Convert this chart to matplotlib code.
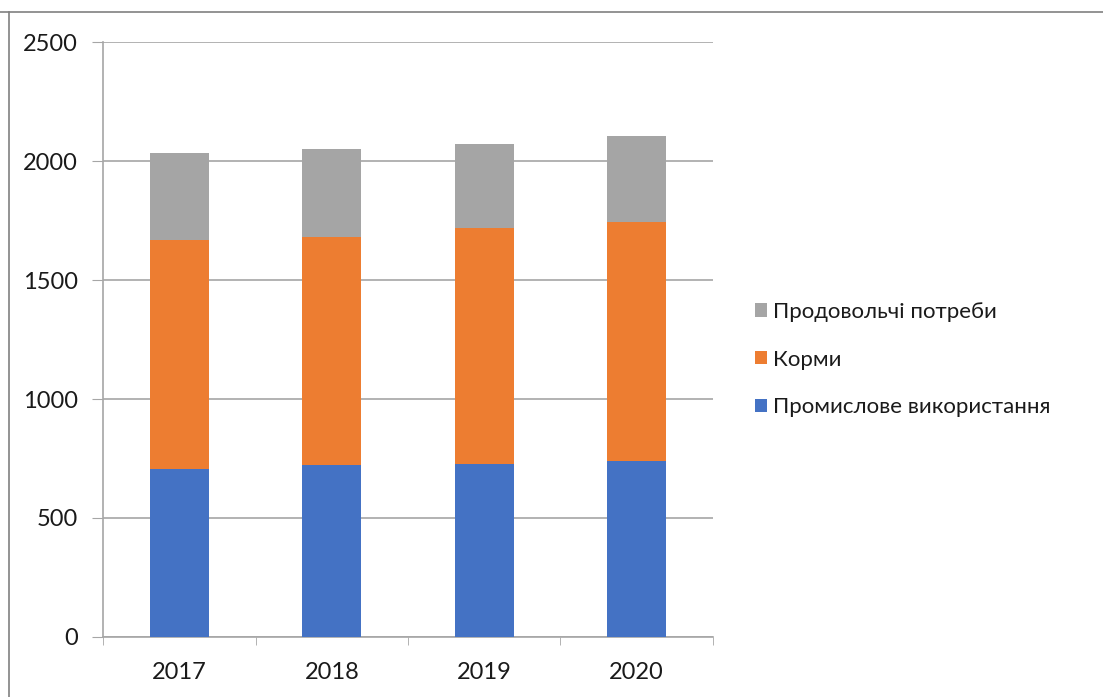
import matplotlib
matplotlib.use("Agg")
import matplotlib.pyplot as plt
from matplotlib.lines import Line2D

plt.rcParams["font.family"] = ["Lato", "Open Sans", "DejaVu Sans"]
plt.rcParams["text.color"] = "#1a1a1a"

years = ["2017", "2018", "2019", "2020"]
industrial = [706, 722, 727, 739]
feed = [962, 959, 991, 1005]
food = [366, 369, 353, 361]

labels = ["Промислове використання", "Корми", "Продовольчі потреби"]
colors = ["#4472c4", "#ed7d31", "#a5a5a5"]

fig = plt.figure(figsize=(11.03, 6.97), dpi=100)
ax = fig.add_axes([0.0934, 0.0861, 0.5530, 0.8536])

x = list(range(len(years)))
bottom = [0] * len(years)
for vals, lab, col in zip([industrial, feed, food], labels, colors):
    ax.bar(x, vals, width=0.39, bottom=bottom, color=col, label=lab, zorder=3)
    bottom = [b + v for b, v in zip(bottom, vals)]

ax.set_xlim(-0.5, len(years) - 0.5)
ax.set_ylim(0, 2500)
ax.set_yticks([0, 500, 1000, 1500, 2000, 2500])
ax.yaxis.grid(True, color="#a6a6a6", linewidth=1.2, zorder=0)
ax.set_xticks(x)
ax.set_xticklabels(years)
ax.set_xticks([-0.5, 0.5, 1.5, 2.5, 3.5], minor=True)
ax.tick_params(axis="x", which="major", length=0, pad=18, labelsize=17,
               labelcolor="#1a1a1a")
ax.tick_params(axis="x", which="minor", length=6, color="#a6a6a6")
ax.tick_params(axis="y", length=8, color="#a6a6a6", pad=10, labelsize=17,
               labelcolor="#1a1a1a")

for side in ["top", "right"]:
    ax.spines[side].set_visible(False)
ax.spines["left"].set_color("#a6a6a6")
ax.spines["bottom"].set_color("#a6a6a6")
ax.spines["left"].set_linewidth(1.2)
ax.spines["bottom"].set_linewidth(1.2)

handles, labs = ax.get_legend_handles_labels()
leg = fig.legend(handles[::-1], labs[::-1], loc="center left",
                 bbox_to_anchor=(0.666, 0.484), frameon=False,
                 fontsize=16, handlelength=0.55, handleheight=0.55,
                 handletextpad=0.3, labelspacing=1.25)

# outer frame lines of the page
fig.add_artist(Line2D([0, 1], [0.983, 0.983], color="#808080", linewidth=1.2))
fig.add_artist(Line2D([0.008, 0.008], [0, 0.983], color="#808080", linewidth=1.2))

fig.savefig("out.png", dpi=100)
